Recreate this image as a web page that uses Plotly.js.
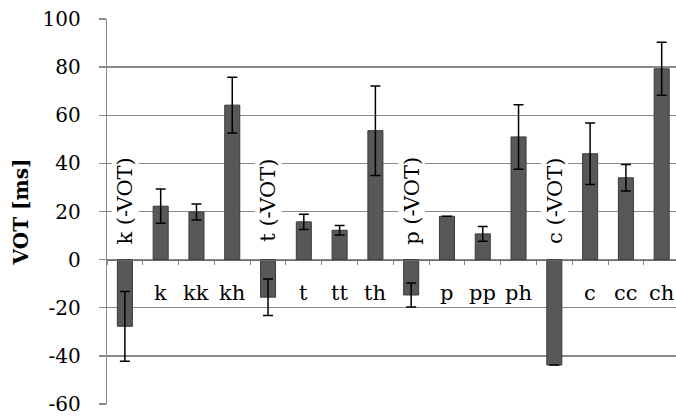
<!DOCTYPE html>
<html>
<head>
<meta charset="utf-8">
<script src="https://cdn.plot.ly/plotly-3.0.1.min.js"></script>
<style>html,body{margin:0;padding:0;background:#fff;overflow:hidden;}</style>
</head>
<body>
<div id="chart" style="width:676px;height:418px;"></div>
<script>
// Categories (consonant types)
var categories = ["k (-VOT)", "k", "kk", "kh", "t (-VOT)", "t", "tt", "th",
                  "p (-VOT)", "p", "pp", "ph", "c (-VOT)", "c", "cc", "ch"];
// Mean VOT [ms]
var votMean = [-27.7, 22.2, 19.8, 64.2, -15.6, 15.7, 12.2, 53.6,
               -14.7, 18.0, 10.7, 51.0, -43.8, 44.0, 34.0, 79.3];
// Standard deviation [ms]
var votSD = [14.5, 7.1, 3.3, 11.6, 7.6, 3.2, 2.0, 18.6,
             5.0, 0.0, 3.1, 13.4, 0.0, 12.8, 5.5, 11.0];
// Y-axis tick values
var yTicks = [-60, -40, -20, 0, 20, 40, 60, 80, 100];

var serif = "DejaVu Serif";
var grid = "#8a8a8a";

var annotations = categories.map(function (c, i) {
  var neg = c.indexOf("-VOT") >= 0;
  return neg ? {
    x: c, y: 24.5, xref: "x", yref: "y", text: c, showarrow: false,
    textangle: -90, xanchor: "center", yanchor: "middle",
    bgcolor: "#ffffff", borderpad: 1,
    font: {family: serif, size: 21, color: "#000"}
  } : {
    x: c, y: -14, xref: "x", yref: "y", text: c, showarrow: false,
    xanchor: "center", yanchor: "middle",
    font: {family: serif, size: 21, color: "#000"}
  };
});

var trace = {
  type: "bar",
  x: categories,
  y: votMean,
  width: 0.42,
  marker: {color: "#585858", line: {color: "#3a3a3a", width: 1}},
  error_y: {type: "data", array: votSD, visible: true, color: "#000", thickness: 1.5, width: 5},
  hoverinfo: "none"
};

var layout = {
  width: 676, height: 418,
  margin: {l: 107, r: 0, t: 19, b: 14},
  paper_bgcolor: "#fff", plot_bgcolor: "#fff",
  showlegend: false,
  bargap: 0.58,
  xaxis: {
    type: "category",
    range: [-0.5, 15.4],
    anchor: "free", position: 0.375,
    showline: true, linecolor: "#6a6a6a", linewidth: 1.3,
    ticks: "outside", tickson: "boundaries", ticklen: 4, tickcolor: "#8a8a8a", tickwidth: 1,
    showticklabels: false, showgrid: false, zeroline: false,
    fixedrange: true
  },
  yaxis: {
    range: [-60, 100],
    tickvals: yTicks,
    ticktext: yTicks.map(String),
    showgrid: true, gridcolor: grid, gridwidth: 1.3,
    zeroline: false,
    showline: true, linecolor: grid, linewidth: 1.3,
    ticks: "outside", ticklen: 7, tickcolor: grid, tickwidth: 1.3,
    ticklabelstandoff: 14,
    tickfont: {family: serif, size: 20, color: "#000"},
    title: {text: "<b>VOT [ms]</b>", standoff: 8, font: {family: serif, size: 20, color: "#000"}},
    fixedrange: true
  },
  annotations: annotations
};

Plotly.newPlot("chart", [trace], layout, {displayModeBar: false, staticPlot: true});
</script>
</body>
</html>
